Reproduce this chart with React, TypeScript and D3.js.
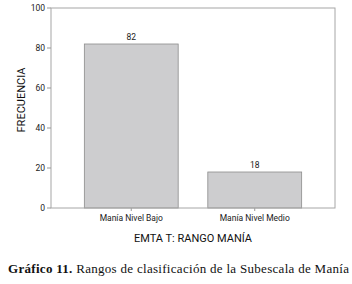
import React from "react"
import * as d3 from "d3"

const categories = ["Manía Nivel Bajo", "Manía Nivel Medio"]
const frequencies = [82, 18]
const yTicks = [0, 20, 40, 60, 80, 100]

const width = 352
const height = 284
const margin = { top: 8, right: 17, bottom: 76, left: 51 }

const App: React.FC = () => {
	const innerW = width - margin.left - margin.right
	const innerH = height - margin.top - margin.bottom

	const x = d3
		.scaleBand()
		.domain(categories)
		.range([0, innerW])
		.paddingInner(0.24)
		.paddingOuter(0.27)

	const y = d3.scaleLinear().domain([0, 100]).range([innerH, 0])

	const sans = "Roboto, 'Liberation Sans', sans-serif"

	return (
		<svg
			width={width}
			height={height}
			style={{ position: "absolute", left: 0, top: 0, background: "#fff" }}>
			<g transform={`translate(${margin.left},${margin.top})`}>
				{categories.map((c, i) => (
					<g key={c}>
						<rect
							x={x(c)}
							y={y(frequencies[i])}
							width={x.bandwidth()}
							height={innerH - y(frequencies[i])}
							fill="#cdcdcf"
							stroke="#8c8c8c"
							strokeWidth={0.8}
						/>
						<text
							x={(x(c) ?? 0) + x.bandwidth() / 2}
							y={y(frequencies[i]) - 4}
							textAnchor="middle"
							fontFamily={sans}
							fontSize={8.5}
							fill="#222">
							{frequencies[i]}
						</text>
						<line
							x1={(x(c) ?? 0) + x.bandwidth() / 2}
							x2={(x(c) ?? 0) + x.bandwidth() / 2}
							y1={innerH}
							y2={innerH + 3}
							stroke="#999"
						/>
						<text
							x={(x(c) ?? 0) + x.bandwidth() / 2}
							y={innerH + 13}
							textAnchor="middle"
							fontFamily={sans}
							fontSize={8.5}
							fill="#222">
							{c}
						</text>
					</g>
				))}
				<rect
					x={0}
					y={0}
					width={innerW}
					height={innerH}
					fill="none"
					stroke="#a6a6a6"
					strokeWidth={1}
				/>
				{yTicks.map((t) => (
					<g key={t} transform={`translate(0,${y(t)})`}>
						<line x1={-4} x2={0} stroke="#999" />
						<text
							x={-6}
							dy="0.35em"
							textAnchor="end"
							fontFamily={sans}
							fontSize={8.5}
							fill="#222">
							{t}
						</text>
					</g>
				))}
				<text
					transform={`translate(-26,${innerH / 2 - 8}) rotate(-90)`}
					textAnchor="middle"
					fontFamily={sans}
					fontSize={11}
					fill="#111">
					FRECUENCIA
				</text>
				<text
					x={innerW / 2}
					y={innerH + 34}
					textAnchor="middle"
					fontFamily={sans}
					fontSize={11}
					fill="#111">
					EMTA T: RANGO MANÍA
				</text>
			</g>
			<text
				x={8}
				y={273}
				fontFamily="'Liberation Serif', 'DejaVu Serif', serif"
				fontSize={13}
				textLength={341}
				lengthAdjust="spacing"
				fill="#111">
				<tspan fontWeight="bold">Gráfico 11.</tspan> Rangos de clasificación de la
				Subescala de Manía
			</text>
		</svg>
	)
}

export default App
